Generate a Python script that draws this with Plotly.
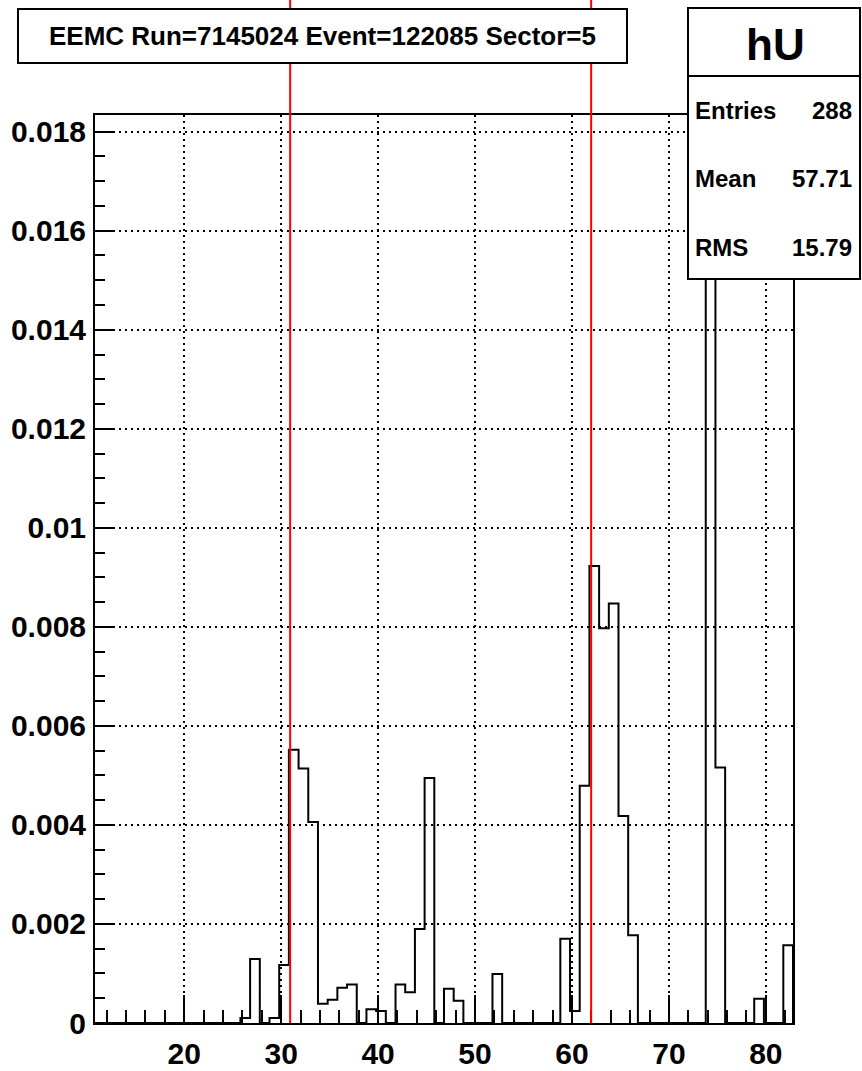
import plotly.graph_objects as go

# ---- data -------------------------------------------------------------
strips = list(range(11, 83))  # histogram bins (strip id), 72 bins
values = [
    0, 0, 0, 0, 0, 0, 0, 0, 0, 0, 0, 0, 0, 0, 0,          # 11-25
    0.0001, 0.00129, 0, 0.0001, 0.00117,                    # 26-30
    0.00552, 0.00514, 0.00406, 0.00039, 0.00047,            # 31-35
    0.00071, 0.00078, 0, 0.00028, 0.00024,                  # 36-40
    0, 0.00078, 0.00062, 0.0019, 0.00495,                   # 41-45
    0, 0.00069, 0.00045, 0, 0,                              # 46-50
    0, 0.00099, 0, 0, 0,                                    # 51-55
    0, 0, 0, 0.0017, 0.00024,                               # 56-60
    0.00479, 0.00923, 0.00797, 0.00847, 0.00418,            # 61-65
    0.00177, 0, 0, 0, 0,                                    # 66-70
    0, 0, 0, 0.0178, 0.00516,                               # 71-75
    0, 0, 0, 0.00049, 0,                                    # 76-80
    0, 0.00157,                                             # 81-82
]
marker_lines = [30.93, 61.98]
title_text = "EEMC Run=7145024 Event=122085 Sector=5"
stat_name = "hU"
stat_labels = ["Entries", "Mean", "RMS"]
stat_values = ["288", "57.71", "15.79"]

bin_offset = -0.2
x_range = [10.8, 82.8]
y_range = [0, 0.018337]

# ---- geometry ---------------------------------------------------------
W, H = 862, 1071
L, R, T, B = 95, 69, 115, 48
PW, PH = W - L - R, H - T - B


def px(x):
    return (x - L) / PW


def py(y):
    return (H - B - y) / PH


FONT = "Liberation Sans"

# step outline of histogram
xs = [s + bin_offset for s in strips] + [strips[-1] + 1 + bin_offset, strips[-1] + 1 + bin_offset]
ys = list(values) + [values[-1], 0]

fig = go.Figure()
fig.add_trace(go.Scatter(
    x=xs, y=ys, mode="lines", line=dict(color="black", width=2, shape="hv"),
    hoverinfo="skip", showlegend=False,
))

shapes = []
for xv in marker_lines:
    shapes.append(dict(type="line", xref="x", yref="paper", x0=xv, x1=xv,
                       y0=0, y1=1.3, line=dict(color="red", width=2), layer="above"))

# stats box
shapes.append(dict(type="rect", xref="paper", yref="paper",
                   x0=px(688), x1=px(860), y0=py(279), y1=py(8),
                   fillcolor="white", line=dict(color="black", width=2), layer="above"))
shapes.append(dict(type="line", xref="paper", yref="paper",
                   x0=px(688), x1=px(860), y0=py(76), y1=py(76),
                   line=dict(color="black", width=2), layer="above"))

annotations = [
    dict(text=title_text, xref="paper", yref="paper", x=px(17), y=py(8),
         xanchor="left", yanchor="top", showarrow=False,
         width=607, height=52, borderwidth=2, borderpad=0, bordercolor="black",
         bgcolor="white", align="center",
         font=dict(family=FONT, size=26, weight="bold", color="black")),
    dict(text=stat_name, xref="paper", yref="paper", x=px(775), y=py(44),
         xanchor="center", yanchor="middle", showarrow=False,
         font=dict(family=FONT, size=44, weight="bold", color="black")),
]
row_y = [110, 178, 248]
for lab, val, yy in zip(stat_labels, stat_values, row_y):
    annotations.append(dict(text=lab, xref="paper", yref="paper", x=px(693), y=py(yy),
                            xanchor="left", yanchor="middle", showarrow=False,
                            font=dict(family=FONT, size=24, weight="bold", color="black")))
    annotations.append(dict(text=val, xref="paper", yref="paper", x=px(854), y=py(yy),
                            xanchor="right", yanchor="middle", showarrow=False,
                            font=dict(family=FONT, size=24, weight="bold", color="black")))

tickfont = dict(family=FONT, size=30, weight="bold", color="black")

fig.update_layout(
    width=W, height=H,
    margin=dict(l=L, r=R, t=T, b=B, pad=0, autoexpand=False),
    paper_bgcolor="white", plot_bgcolor="white",
    shapes=shapes, annotations=annotations,
    showlegend=False,
    xaxis=dict(
        range=x_range, tick0=0, dtick=10, ticks="inside", ticklen=28, tickwidth=2,
        tickcolor="black", showline=True, linecolor="black", linewidth=2, mirror=True,
        showgrid=True, gridcolor="black", gridwidth=2, griddash="2px,4px",
        zeroline=False, tickfont=tickfont, ticklabelstandoff=3, automargin=False,
        minor=dict(dtick=2, tick0=0, ticks="inside", ticklen=13, tickwidth=2,
                   tickcolor="black", showgrid=False),
    ),
    yaxis=dict(
        range=y_range, tick0=0, dtick=0.002, ticks="inside", ticklen=19, tickwidth=2,
        tickcolor="black", showline=True, linecolor="black", linewidth=2, mirror=True,
        showgrid=True, gridcolor="black", gridwidth=2, griddash="2px,4px",
        zeroline=False, tickfont=tickfont, ticklabelstandoff=1, automargin=False,
        minor=dict(dtick=0.0005, tick0=0, ticks="inside", ticklen=10, tickwidth=2,
                   tickcolor="black", showgrid=False),
    ),
)

fig.write_html(
    "out.html",
    config={"displayModeBar": False},
    post_script="document.body.style.margin='0';document.body.style.overflow='hidden';",
)
